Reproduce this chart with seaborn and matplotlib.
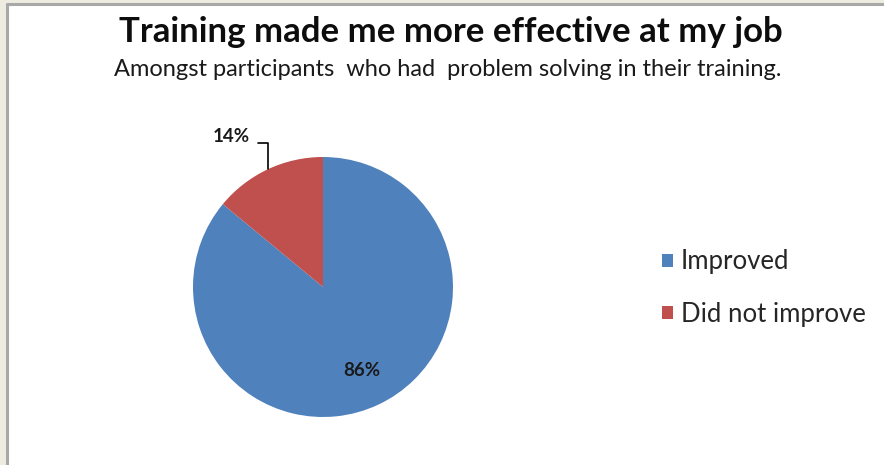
import numpy as np
import matplotlib
matplotlib.use("Agg")
import matplotlib.pyplot as plt
import seaborn as sns
from matplotlib.patches import Rectangle
from matplotlib.lines import Line2D

categories = ["Improved", "Did not improve"]
values = [86, 14]
colors = ["#4F81BD", "#C0504D"]
title = "Training made me more effective at my job"
subtitle = "Amongst participants  who had  problem solving in their training."

sns.set_theme(style="white")
plt.rcParams["font.family"] = ["Lato", "DejaVu Sans"]

fig = plt.figure(figsize=(8.84, 4.65), dpi=100)
fig.patch.set_facecolor("white")

# frame decoration (beige strip + grey border)
fig.patches.append(Rectangle((0, 0), 6 / 884, 1, transform=fig.transFigure,
                             facecolor="#EEEBE0", edgecolor="none", zorder=0))
fig.patches.append(Rectangle((0, 1 - 3 / 465), 1, 3 / 465, transform=fig.transFigure,
                             facecolor="#EEEBE0", edgecolor="none", zorder=0))
fig.lines.append(Line2D([7 / 884, 7 / 884], [0, 1 - 4 / 465], transform=fig.transFigure,
                        color="#A8A8A8", lw=2.2))
fig.lines.append(Line2D([7 / 884, 1], [1 - 4 / 465, 1 - 4 / 465], transform=fig.transFigure,
                        color="#A8A8A8", lw=2.2))

fig.text(451 / 884, 1 - 32 / 465, title, ha="center", va="center",
         fontsize=25, fontweight="bold", color="#0d0d0d")
fig.text(448 / 884, 1 - 70 / 465, subtitle, ha="center", va="center",
         fontsize=17, color="#1a1a1a")

ax = fig.add_axes([(323 - 130) / 884, (465 - 417) / 465, 260 / 884, 260 / 465])
wedges, texts, autotexts = ax.pie(
    values, colors=colors, startangle=90, counterclock=False,
    autopct="%d%%", pctdistance=0.71, radius=1.0,
    wedgeprops=dict(linewidth=0),
    textprops=dict(fontsize=13.5, fontweight="bold", color="#1a1a1a"))
ax.set_aspect("equal")
ax.set_xlim(-1, 1)
ax.set_ylim(-1, 1)
ax.axis("off")

# move small-slice label outside with leader line
w = wedges[1]
mid = np.deg2rad((w.theta1 + w.theta2) / 2)
autotexts[1].set_visible(False)
ax.annotate(autotexts[1].get_text(), xy=(np.cos(mid), np.sin(mid)),
            xytext=(-0.56, 1.16), ha="right", va="center",
            fontsize=13.5, fontweight="bold", color="#1a1a1a",
            annotation_clip=False,
            arrowprops=dict(arrowstyle="-", color="black", lw=1.2,
                            connectionstyle="angle,angleA=0,angleB=90,rad=0",
                            relpos=(1.0, 0.1), shrinkA=3, shrinkB=0))

handles = [Rectangle((0, 0), 1, 1, facecolor=c, edgecolor="none") for c in colors]
fig.legend(handles, categories, loc="center left",
           bbox_to_anchor=(639 / 884, 1 - 288 / 465), frameon=False,
           fontsize=18.5, handlelength=0.42, handleheight=0.42, handletextpad=0.3,
           labelspacing=1.06)

fig.savefig("out.png", dpi=100)
